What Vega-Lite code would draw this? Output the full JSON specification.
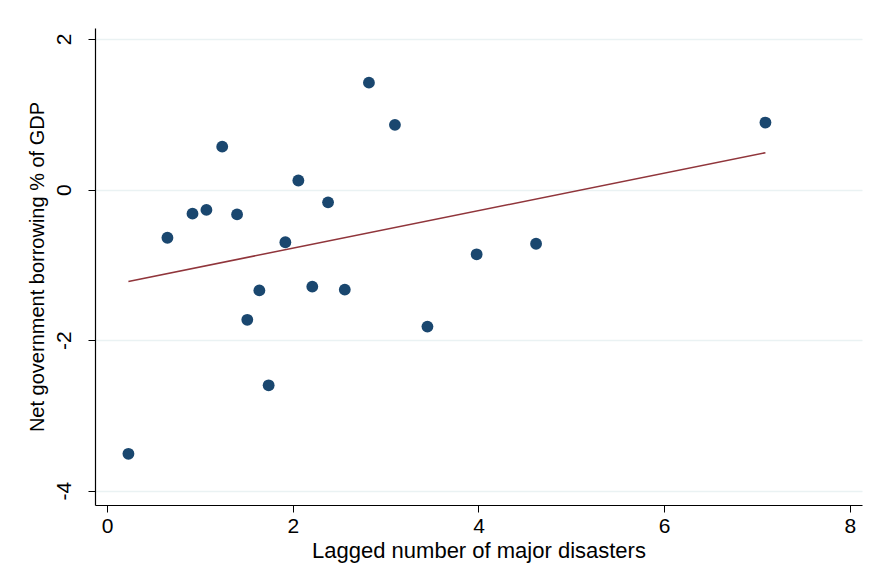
{
  "$schema": "https://vega.github.io/schema/vega-lite/v6.json",
  "autosize": {"type": "none"},
  "width": 767,
  "height": 477,
  "padding": {"left": 95, "top": 28, "right": 11, "bottom": 70},
  "background": "white",
  "config": {
    "view": {"stroke": null},
    "font": "Liberation Sans"
  },
  "datasets": {
    "points": [
      {"disasters": 0.23, "borrowing": -3.51},
      {"disasters": 0.65, "borrowing": -0.64},
      {"disasters": 0.92, "borrowing": -0.32},
      {"disasters": 1.07, "borrowing": -0.27},
      {"disasters": 1.24, "borrowing": 0.57},
      {"disasters": 1.40, "borrowing": -0.33},
      {"disasters": 1.51, "borrowing": -1.73},
      {"disasters": 1.64, "borrowing": -1.34},
      {"disasters": 1.74, "borrowing": -2.60},
      {"disasters": 1.92, "borrowing": -0.70},
      {"disasters": 2.06, "borrowing": 0.12},
      {"disasters": 2.21, "borrowing": -1.29},
      {"disasters": 2.38, "borrowing": -0.17},
      {"disasters": 2.56, "borrowing": -1.33},
      {"disasters": 2.82, "borrowing": 1.42},
      {"disasters": 3.10, "borrowing": 0.86},
      {"disasters": 3.45, "borrowing": -1.82},
      {"disasters": 3.98, "borrowing": -0.86},
      {"disasters": 4.62, "borrowing": -0.72},
      {"disasters": 7.09, "borrowing": 0.89}
    ],
    "fit": [
      {"disasters": 0.23, "borrowing": -1.22},
      {"disasters": 7.09, "borrowing": 0.49}
    ]
  },
  "encoding": {
    "x": {
      "field": "disasters",
      "type": "quantitative",
      "scale": {"domain": [-0.13, 8.13], "nice": false, "zero": false},
      "axis": {
        "values": [0, 2, 4, 6, 8],
        "labelExpr": "'' + datum.value",
        "title": "Lagged number of major disasters",
        "titleFontSize": 22,
        "titleFontWeight": "normal",
        "titleColor": "black",
        "titlePadding": 4,
        "labelFontSize": 21,
        "labelColor": "black",
        "labelPadding": 3,
        "tickColor": "black",
        "tickSize": 7,
        "domainColor": "black",
        "domainWidth": 1.2,
        "grid": false
      }
    },
    "y": {
      "field": "borrowing",
      "type": "quantitative",
      "scale": {"domain": [-4.19, 2.146], "nice": false, "zero": false},
      "axis": {
        "values": [-4, -2, 0, 2],
        "labelExpr": "'' + datum.value",
        "title": "Net government borrowing % of GDP",
        "titleFontSize": 20,
        "titleFontWeight": "normal",
        "titleColor": "black",
        "titlePadding": 6,
        "labelFontSize": 21,
        "labelColor": "black",
        "labelAngle": -90,
        "labelAlign": "center",
        "labelBaseline": "bottom",
        "labelPadding": 14,
        "tickColor": "black",
        "tickSize": 7,
        "domainColor": "black",
        "domainWidth": 1.2,
        "grid": true,
        "gridColor": "#eaf2f3",
        "gridWidth": 1.5
      }
    }
  },
  "layer": [
    {
      "data": {"name": "fit"},
      "mark": {"type": "line", "color": "#90353b", "strokeWidth": 1.5}
    },
    {
      "data": {"name": "points"},
      "mark": {"type": "point", "filled": true, "shape": "circle", "size": 140, "color": "#1a476f", "opacity": 1}
    }
  ]
}
